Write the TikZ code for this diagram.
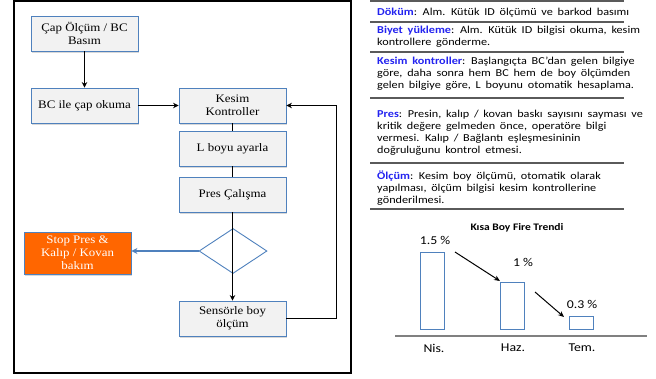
\documentclass[tikz,border=0pt]{standalone}
\usepackage{fontspec}
\setmainfont{Liberation Serif}[FakeStretch=1.12]
\newfontfamily\calf{Carlito}[FakeStretch=1.15]
\usetikzlibrary{arrows.meta,shapes.geometric,shadows}
\definecolor{boxblue}{HTML}{4F81BD}
\definecolor{boxfill}{HTML}{F2F2F2}
\definecolor{stoporange}{HTML}{FF6600}
\definecolor{lblue}{HTML}{2323F0}
\definecolor{sepgray}{HTML}{5A5A5A}
\newcommand\myrtfont{\calf\fontsize{10.6}{12}\selectfont\spaceskip=0.45em\relax}
\tikzset{
  flowbox/.style={draw=boxblue, line width=0.9pt, fill=boxfill, minimum width=107pt,
    minimum height=35pt, inner sep=0pt, align=center,
    font=\fontsize{11.5}{12.8}\selectfont,
    drop shadow={shadow xshift=1pt, shadow yshift=-1.5pt, fill=black!30, opacity=0.5}},
  stopbox/.style={flowbox, fill=stoporange, minimum height=42pt, text=white},
  decision/.style={diamond, draw=boxblue, line width=0.9pt, fill=white,
    minimum width=68pt, minimum height=45pt, inner sep=0pt},
  arr/.style={line width=0.9pt, -{Stealth[length=5.5pt,width=5.5pt]}},
  plain/.style={line width=0.9pt},
  bluearr/.style={draw=boxblue, line width=1.4pt, -{Stealth[length=6pt,width=6pt]}},
  sep/.style={draw=sepgray, line width=1.3pt},
  rt/.style={anchor=base west, inner sep=0pt, font=\myrtfont},
  bar/.style={draw=boxblue, line width=0.9pt, fill=white, inner sep=0pt},
  chartlbl/.style={inner sep=0pt, font=\calf\fontsize{12}{14}\selectfont},
  trend/.style={line width=1pt, -{Stealth[length=6pt,width=5pt]}}
}
\begin{document}
\begin{tikzpicture}[x=1pt,y=-1pt]
\useasboundingbox (0,0) rectangle (656,378);
% left frame
\draw[line width=1.2pt] (14,1) rectangle (351,373);
% flow nodes
\node[flowbox] (cap) at (84.5,33.5) {Çap Ölçüm / BC\\Basım};
\node[flowbox] (bc) at (84.5,105.5) {BC ile çap okuma};
\node[flowbox] (kesim) at (232.5,105.5) {Kesim\\Kontroller};
\node[flowbox] (lboy) at (232.5,148.5) {L boyu ayarla};
\node[flowbox] (pres) at (232.5,194.5) {Pres Çalışma};
\node[decision] (dia) at (233,251) {};
\node[stopbox] (stop) at (77.5,253) {Stop Pres \&\\Kalıp / Kovan\\bakım};
\node[flowbox] (sensor) at (232.5,318.5) {Sensörle boy\\ölçüm};
\coordinate (fb) at (336,105.5);
% connectors
\draw[arr] (cap) -- (bc);
\draw[arr] (bc) -- (kesim);
\draw[plain] (kesim) -- (lboy);
\draw[plain] (lboy) -- (pres);
\draw[arr] (pres) -- (sensor);
\draw[bluearr] (dia.west) -- (dia.west -| stop.east);
\draw[arr] (sensor.east) -| (fb) -- (kesim.east);
% right panel separators
\foreach \yy in {1,22,52,98,163,209} \draw[sep] (370,\yy) -- (624,\yy);
% right panel text
\node[rt] (t1) at (377,15) {\textcolor{lblue}{\bfseries Döküm}: Alm. Kütük ID ölçümü ve barkod basımı};
\node[rt] (t2) at (377,33) {\textcolor{lblue}{\bfseries Biyet yükleme}: Alm. Kütük ID bilgisi okuma, kesim};
\node[rt] (t3) at (377,45) {kontrollere gönderme.};
\node[rt] (t4) at (377,64) {\textcolor{lblue}{\bfseries Kesim kontroller}: Başlangıçta BC’dan gelen bilgiye};
\node[rt] (t5) at (377,76) {göre, daha sonra hem BC hem de boy ölçümden};
\node[rt] (t6) at (377,88) {gelen bilgiye göre, L boyunu otomatik hesaplama.};
\node[rt] (t7) at (377,117) {\textcolor{lblue}{\bfseries Pres}: Presin, kalıp / kovan baskı sayısını sayması ve};
\node[rt] (t8) at (377,129) {kritik değere gelmeden önce, operatöre bilgi};
\node[rt] (t9) at (377,141) {vermesi. Kalıp / Bağlantı eşleşmesininin};
\node[rt] (t10) at (377,153) {doğruluğunu kontrol etmesi.};
\node[rt] (t11) at (377,179) {\textcolor{lblue}{\bfseries Ölçüm}: Kesim boy ölçümü, otomatik olarak};
\node[rt] (t12) at (377,191) {yapılması, ölçüm bilgisi kesim kontrollerine};
\node[rt] (t13) at (377,203) {gönderilmesi.};
% chart
\node[inner sep=0pt, font=\calf\bfseries\fontsize{10}{12}\selectfont] (title) at (517,228) {Kısa Boy Fire Trendi};
\node[bar, minimum width=24pt, minimum height=77pt] (b1) at (432,290.5) {};
\node[bar, minimum width=24pt, minimum height=47pt] (b2) at (512,305.5) {};
\node[bar, minimum width=24pt, minimum height=13pt] (b3) at (581,322.5) {};
\draw[draw=black!50, line width=1.3pt] (395,336) -- (647,336);
\node[chartlbl] (v1) at (435,240) {1.5 \%};
\node[chartlbl] (v2) at (523,262) {1 \%};
\node[chartlbl] (v3) at (582,304) {0.3 \%};
\node[chartlbl] (m1) at (434,348) {Nis.};
\node[chartlbl] (m2) at (513,348) {Haz.};
\node[chartlbl] (m3) at (582,348) {Tem.};
\coordinate (a1s) at (455,252);
\coordinate (a1e) at (500,281);
\coordinate (a2s) at (535,292);
\coordinate (a2e) at (564,317);
\draw[trend] (a1s) -- (a1e);
\draw[trend] (a2s) -- (a2e);
\end{tikzpicture}
\end{document}
